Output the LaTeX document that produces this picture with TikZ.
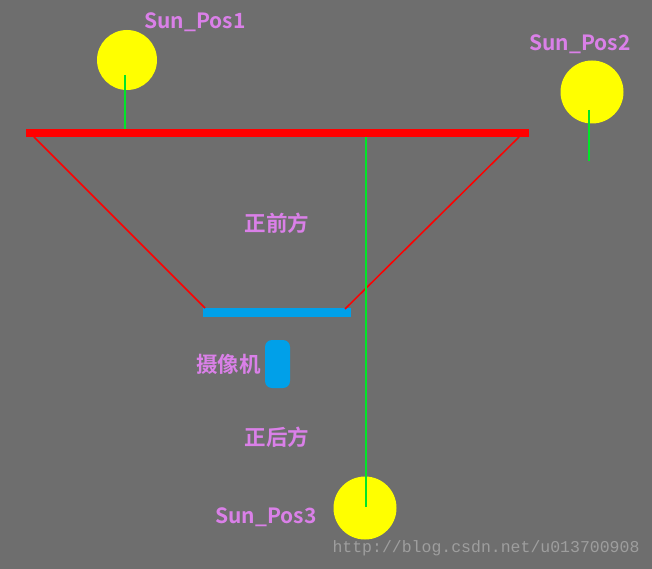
\documentclass[tikz,border=0pt]{standalone}
\usepackage{fontspec}
\setmainfont{Noto Sans CJK SC}
\newfontfamily\labelfont{Noto Sans CJK SC Bold}
\newfontfamily\markfont{Liberation Mono}
\usetikzlibrary{positioning}
\definecolor{bgGray}{RGB}{110, 110, 110}
\definecolor{sunYellow}{RGB}{255, 255, 0}
\definecolor{rayGreen}{RGB}{0, 230, 40}
\definecolor{planeRed}{RGB}{255, 0, 0}
\definecolor{camBlue}{RGB}{0, 160, 233}
\definecolor{txtPink}{RGB}{218, 128, 232}
\definecolor{markGray}{RGB}{158, 158, 158}
\tikzset{
    tag/.style={
        font=\labelfont\fontsize{21}{23}\selectfont,
        text=txtPink,
        inner sep=0pt
    },
    cjktag/.style={
        tag,
        font=\labelfont\fontsize{21.5}{23}\selectfont
    },
    sun/.style={
        circle,
        fill=sunYellow,
        inner sep=0pt
    },
    ray/.style={
        draw=rayGreen,
        line width=1.8pt
    },
    edge/.style={
        draw=planeRed,
        line width=1.5pt
    },
    farplane/.style={
        rectangle,
        fill=planeRed,
        inner sep=0pt,
        minimum height=8pt
    },
    nearplane/.style={
        rectangle,
        fill=camBlue,
        inner sep=0pt,
        minimum height=9pt
    },
    cam/.style={
        rectangle,
        rounded corners=7pt,
        fill=camBlue,
        inner sep=0pt,
        minimum width=25pt,
        minimum height=48pt
    }
}
\begin{document}
\begin{tikzpicture}[x=1pt, y=-1pt]
  % Background
  \fill[bgGray] (0,0) rectangle (652,569);
  \useasboundingbox (0,0) rectangle (652,569);

  % Planes
  \node[farplane, minimum width=503pt] (far) at (277.5,133) {};
  \node[nearplane, minimum width=148pt] (near) at (277,312.5) {};

  % Frustum edges
  \coordinate (farL) at (34,137);
  \coordinate (farR) at (519,137);
  \coordinate (nearL) at (205,308);
  \coordinate (nearR) at (345,309);
  \draw[edge] (farL) -- (nearL);
  \draw[edge] (farR) -- (nearR);

  % Camera
  \node[cam] (camera) at (277.5,364) {};
  \node[cjktag, left=4pt of camera] (camlabel) {摄像机};
  \node[cjktag] (front) at (277,223) {正前方};
  \node[cjktag] (back) at (277,437) {正后方};

  % Suns
  \node[sun, minimum size=60pt] (sun1) at (127,60) {};
  \node[sun, minimum size=63pt] (sun2) at (592,92) {};
  \node[sun, minimum size=63pt] (sun3) at (365,508) {};
  \node[tag] (sun1label) at (195,22) {Sun\_Pos1};
  \node[tag] (sun2label) at (580,44) {Sun\_Pos2};
  \node[tag] (sun3label) at (266,517) {Sun\_Pos3};

  % Rays
  \coordinate (ray1) at (125,75);
  \coordinate (ray2a) at (589,110);
  \coordinate (ray2b) at (589,161);
  \coordinate (ray3) at (366,507);
  \draw[ray] (ray1) -- (ray1 |- far.north);
  \draw[ray] (ray2a) -- (ray2b);
  \draw[ray] (ray3) -- (ray3 |- far.south);

  % Watermark
  \node[font=\markfont\fontsize{16.5}{18}\selectfont, text=markGray, inner sep=0pt] (mark) at (486,548) {http://blog.csdn.net/u013700908};
\end{tikzpicture}
\end{document}
